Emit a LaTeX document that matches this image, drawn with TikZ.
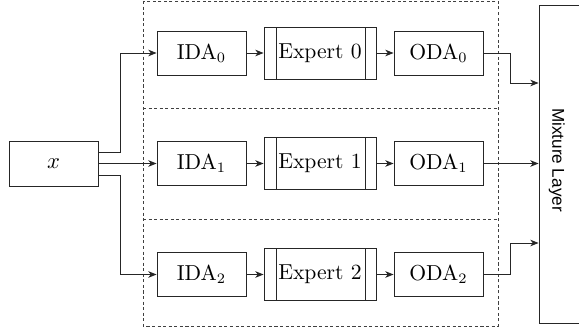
\documentclass[tikz,border=0pt]{standalone}
\usepackage{fontspec}
\newfontfamily\mixfont{Liberation Sans}
\usetikzlibrary{arrows.meta,calc}
\def\u{0.485pt}
\tikzset{
  blk/.style={draw=black!85, line width=0.45pt, minimum width=89*\u, minimum height=44*\u, inner sep=0pt, font=\fontsize{10.5}{12}\selectfont},
  expbox/.style={blk, minimum width=112*\u, minimum height=52*\u,
    path picture={
      \draw[black!85, line width=0.45pt] ([xshift=12*\u]path picture bounding box.south west) -- ([xshift=12*\u]path picture bounding box.north west);
      \draw[black!85, line width=0.45pt] ([xshift=-11*\u]path picture bounding box.south east) -- ([xshift=-11*\u]path picture bounding box.north east);
    }},
  arr/.style={black!85, line width=0.45pt, -{Stealth[length=4pt,width=3.2pt,inset=1.2pt]}},
  grp/.style={line width=0.4pt, dash pattern=on 1.5pt off 1.2pt, black!75},
}
\begin{document}
\begin{tikzpicture}[x=\u, y=-\u]
\useasboundingbox (0,0) rectangle (579,327);
% group boxes
\draw[grp] (143,1) rectangle (498,326);
\draw[grp] (143,108) -- (498,108);
\draw[grp] (143,219.5) -- (498,219.5);
% nodes
\node[blk, minimum height=45*\u] (x) at (53.5,163.5) {$x$};
\node[blk] (ida0) at (201.5,53) {IDA$_0$};
\node[blk] (ida1) at (201.5,163.5) {IDA$_1$};
\node[blk] (ida2) at (201.5,274.5) {IDA$_2$};
\node[expbox] (e0) at (320,53) {Expert 0};
\node[expbox] (e1) at (320,163.5) {Expert 1};
\node[expbox] (e2) at (320,274.5) {Expert 2};
\node[blk] (oda0) at (438.5,53) {ODA$_0$};
\node[blk] (oda1) at (438.5,163.5) {ODA$_1$};
\node[blk] (oda2) at (438.5,274.5) {ODA$_2$};
\node[draw=black!85, line width=0.45pt, minimum width=61*\u, minimum height=318*\u, inner sep=0pt] (mix) at (569.5,164) {};
\node[rotate=-90, font=\mixfont\fontsize{8.3}{10}\selectfont] (mixlbl) at (556.7,160) {Mixture Layer};
% connectors
\draw[arr] ([yshift=11.5*\u]x.east) -- ++(22,0) |- (ida0.west);
\draw[arr] (x.east) -- (ida1.west);
\draw[arr] ([yshift=-11.5*\u]x.east) -- ++(22,0) |- (ida2.west);
\foreach \i in {0,1,2}{
  \draw[arr] (ida\i) -- (e\i);
  \draw[arr] (e\i) -- (oda\i);
}
\draw[arr] (oda0.east) -- ++(27.5,0) |- ([yshift=81*\u]mix.west);
\draw[arr] (oda1.east) -- (oda1.east -| mix.west);
\draw[arr] (oda2.east) -- ++(27.5,0) |- ([yshift=-79*\u]mix.west);
\end{tikzpicture}
\end{document}
